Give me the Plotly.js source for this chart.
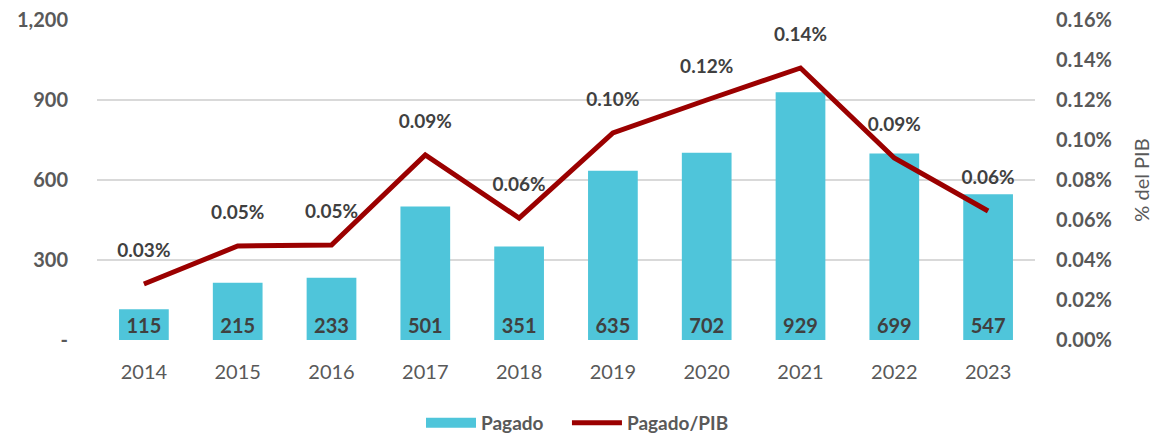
<!DOCTYPE html>
<html><head><meta charset="utf-8">
<script src="https://cdn.plot.ly/plotly-3.0.1.min.js"></script>
<style>html,body{margin:0;padding:0;background:#fff}#chart{width:1155px;height:436px}</style>
</head><body><div id="chart"></div>
<script>
const years = ['2014','2015','2016','2017','2018','2019','2020','2021','2022','2023'];
const pagado = [115, 215, 233, 501, 351, 635, 702, 929, 699, 547];
const pagadoPib = [0.028, 0.047, 0.0475, 0.0925, 0.061, 0.1035, 0.120, 0.136, 0.091, 0.0645];
const pibLabels = ['0.03%','0.05%','0.05%','0.09%','0.06%','0.10%','0.12%','0.14%','0.09%','0.06%'];
const leftTicks = [0, 300, 600, 900, 1200];
const leftTickText = ['-', '300', '600', '900', '1,200'];
const rightTicks = [0, 0.02, 0.04, 0.06, 0.08, 0.10, 0.12, 0.14, 0.16];
const rightTickText = ['0.00%','0.02%','0.04%','0.06%','0.08%','0.10%','0.12%','0.14%','0.16%'];

const F = 'Lato, Carlito, Calibri, "Open Sans", sans-serif';
const BAR = '#4FC5DA', LINE = '#9B0000';
const traces = [
  {type:'bar', name:'Pagado', x:years, y:pagado, text:pagado.map(String),
   textposition:'inside', insidetextanchor:'start', constraintext:'none',
   textfont:{family:F, size:20, color:'#404040', weight:'bold'},
   marker:{color:BAR}, width:0.53, hoverinfo:'skip', showlegend:false},
  {type:'scatter', mode:'lines', name:'Pagado\u00a0\u00a0\u00a0\u00a0', x:[null], y:[null],
   line:{color:BAR, width:14}, hoverinfo:'skip', showlegend:true},
  {type:'scatter', mode:'lines+markers+text', name:'Pagado/PIB', x:years, y:pagadoPib, yaxis:'y2',
   text:pibLabels, textposition:'top center',
   textfont:{family:F, size:19, color:'#404040', weight:'bold'},
   marker:{size:34, color:'rgba(0,0,0,0)'},
   line:{color:LINE, width:5}, cliponaxis:false, hoverinfo:'skip'}
];
const layout = {
  width:1155, height:436,
  margin:{l:97, r:120, t:20, b:96},
  paper_bgcolor:'#fff', plot_bgcolor:'#fff',
  font:{family:F, color:'#595959'},
  showlegend:true,
  legend:{orientation:'h', x:0.5, xref:'container', xanchor:'center', y:0.03, yref:'container', yanchor:'middle',
    font:{family:F, size:19, color:'#595959', weight:'bold'}, traceorder:'normal', itemwidth:50},
  xaxis:{type:'category', range:[-0.5, 9.5], autorange:false, showgrid:false, zeroline:false, showline:false,
    ticks:'', ticklabelstandoff:18, tickfont:{family:F, size:20, color:'#595959'}},
  yaxis:{range:[0,1200], tickvals:leftTicks, ticktext:leftTickText, showgrid:true,
    gridcolor:'#D9D9D9', gridwidth:1.5, zeroline:false, ticks:'', ticklabelstandoff:28,
    tickfont:{family:F, size:20, color:'#595959', weight:'bold'}},
  yaxis2:{overlaying:'y', side:'right', range:[0,0.16], tickvals:rightTicks, ticktext:rightTickText,
    showgrid:false, zeroline:false, ticks:'', ticklabelstandoff:20,
    tickfont:{family:F, size:20, color:'#595959', weight:'bold'},
    title:{text:'% del PIB', font:{family:F, size:20, color:'#595959'}, standoff:24}},
  bargap:0.47
};
Plotly.newPlot('chart', traces, layout, {displayModeBar:false, staticPlot:true});
</script></body></html>
